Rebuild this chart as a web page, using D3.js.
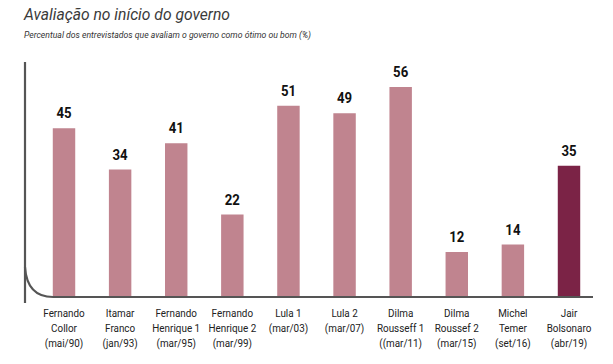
<!DOCTYPE html>
<html><head><meta charset="utf-8">
<script src="https://cdn.jsdelivr.net/npm/d3@7"></script>
<style>
body{margin:0;background:#fff;}
svg{display:block;}
</style></head>
<body>
<script>
const categories = ["Fernando Collor","Itamar Franco","Fernando Henrique 1","Fernando Henrique 2","Lula 1","Lula 2","Dilma Rousseff 1","Dilma Roussef 2","Michel Temer","Jair Bolsonaro"];
const labelLines = [
  ["Fernando","Collor","(mai/90)"],
  ["Itamar","Franco","(jan/93)"],
  ["Fernando","Henrique 1","(mar/95)"],
  ["Fernando","Henrique 2","(mar/99)"],
  ["Lula 1","(mar/03)"],
  ["Lula 2","(mar/07)"],
  ["Dilma","Rousseff 1","((mar/11)"],
  ["Dilma","Roussef 2","(mar/15)"],
  ["Michel","Temer","(set/16)"],
  ["Jair","Bolsonaro","(abr/19)"]
];
const values = [45,34,41,22,51,49,56,12,14,35];
const highlight = "Jair Bolsonaro";

const W=613,H=364;
const svg=d3.select("body").append("svg").attr("width",W).attr("height",H);
const font="Roboto,'Open Sans',sans-serif";

svg.append("text").attr("x",24).attr("y",20).attr("font-family",font).attr("font-style","italic")
  .attr("font-size",17).attr("fill","#3a3a3a").attr("textLength",206).attr("lengthAdjust","spacingAndGlyphs")
  .text("Avaliação no início do governo");
svg.append("text").attr("x",24).attr("y",38).attr("font-family",font).attr("font-style","italic")
  .attr("font-size",9.5).attr("fill","#333").attr("textLength",287).attr("lengthAdjust","spacingAndGlyphs")
  .text("Percentual dos entrevistados que avaliam o governo como ótimo ou bom (%)");

const baseY=297;
const x=d3.scaleBand().domain(categories).range([35.95,597.05]).paddingInner(0.6).paddingOuter(0.3);
const y=d3.scaleLinear().domain([0,56]).range([baseY,87]);

svg.selectAll("rect.bar").data(categories).join("rect").attr("class","bar")
  .attr("x",d=>x(d)).attr("width",x.bandwidth())
  .attr("y",(d,i)=>y(values[i])).attr("height",(d,i)=>baseY-y(values[i]))
  .attr("fill",d=>d===highlight?"#7B2346":"#C0848F");

svg.selectAll("text.val").data(categories).join("text").attr("class","val")
  .attr("transform",(d,i)=>`translate(${x(d)+x.bandwidth()/2},${y(values[i])-10}) scale(0.85,1)`)
  .attr("text-anchor","middle").attr("font-family",font).attr("font-weight","bold")
  .attr("font-size",15.5).attr("fill","#111").text((d,i)=>values[i]);

// axis
const ax=svg.append("g").attr("stroke","#555").attr("stroke-width",2.2).attr("fill","none");
ax.append("line").attr("x1",25).attr("x2",25).attr("y1",62).attr("y2",303);
ax.append("path").attr("d",`M25,267 Q27,297 53,${baseY} L593,${baseY}`);

const g=svg.selectAll("g.cat").data(categories).join("g").attr("class","cat")
  .attr("transform",d=>`translate(${x(d)+x.bandwidth()/2},0) scale(0.86,1)`);
g.selectAll("text").data((d,i)=>labelLines[i]).join("text")
  .attr("x",0).attr("y",(d,j)=>317+j*15).attr("text-anchor","middle")
  .attr("font-family",font).attr("font-size",11.5).attr("fill","#222").text(d=>d);
</script>
</body></html>
